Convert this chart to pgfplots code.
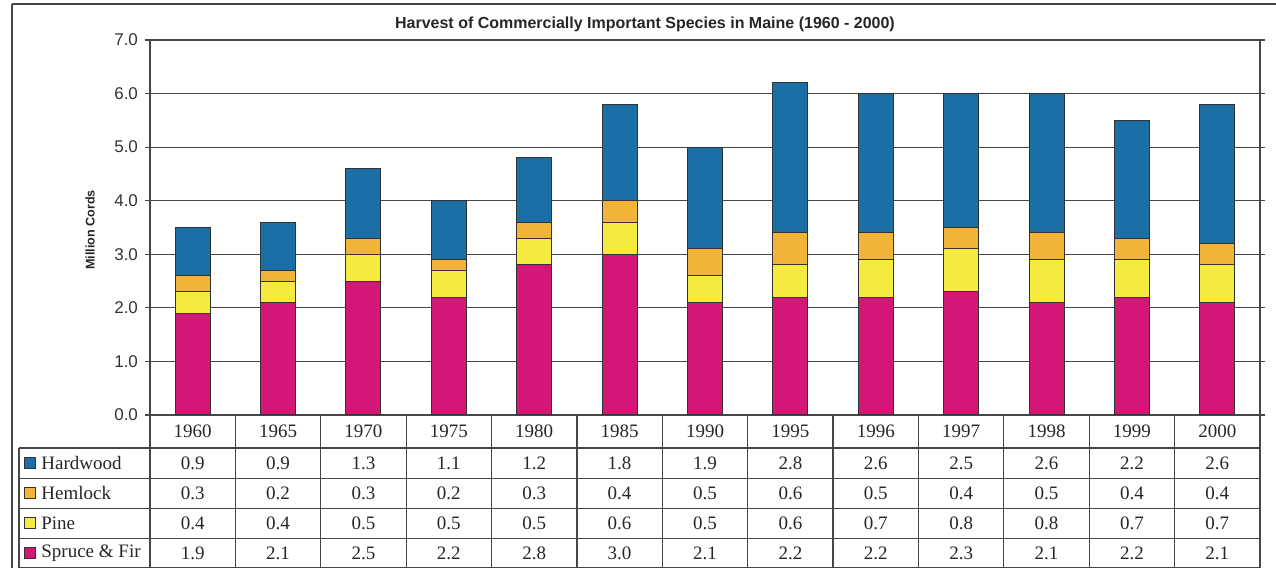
\documentclass[border=0pt]{standalone}
\usepackage{fontspec}
\setmainfont{Liberation Serif}
\setsansfont{Liberation Sans}
\usepackage{pgfplots}
\usepackage{pgfplotstable}
\pgfplotsset{compat=1.18}

\definecolor{hardwood}{RGB}{27,111,166}
\definecolor{hemlock}{RGB}{242,180,56}
\definecolor{pine}{RGB}{244,234,64}
\definecolor{spruce}{RGB}{212,22,118}
\definecolor{gridc}{RGB}{70,70,70}

\pgfplotstableread{
x year hard hem pine spruce
0  1960 0.9 0.3 0.4 1.9
1  1965 0.9 0.2 0.4 2.1
2  1970 1.3 0.3 0.5 2.5
3  1975 1.1 0.2 0.5 2.2
4  1980 1.2 0.3 0.5 2.8
5  1985 1.8 0.4 0.6 3.0
6  1990 1.9 0.5 0.5 2.1
7  1995 2.8 0.6 0.6 2.2
8  1996 2.6 0.5 0.7 2.2
9  1997 2.5 0.4 0.8 2.3
10 1998 2.6 0.5 0.8 2.1
11 1999 2.2 0.4 0.7 2.2
12 2000 2.6 0.4 0.7 2.1
}\harvest

\begin{document}
\begin{tikzpicture}
\begin{axis}[
  at={(75pt,76.5pt)}, anchor=south west,
  scale only axis, width=555pt, height=187.5pt,
  xmin=-0.5, xmax=12.5, ymin=0, ymax=7,
  ybar stacked, bar width=17.5pt,
  xtick=\empty,
  ytick={0,1,...,7},
  yticklabel style={/pgf/number format/.cd,fixed,fixed zerofill,precision=1},
  /pgf/number format/assume math mode=true,
  ticklabel style={font=\sffamily\fontsize{8.5}{9}\selectfont,text=black!80},
  tick align=outside, major tick length=2.5pt,
  tick style={gridc,line width=0.6pt},
  ymajorgrids, grid style={gridc,line width=0.6pt},
  axis line style={gridc,line width=0.6pt},
  every axis plot/.append style={draw=black!80,line width=0.5pt},
]
\addplot[fill=spruce] table[x=x,y=spruce] {\harvest};
\addplot[fill=pine] table[x=x,y=pine] {\harvest};
\addplot[fill=hemlock] table[x=x,y=hem] {\harvest};
\addplot[fill=hardwood] table[x=x,y=hard] {\harvest};
\end{axis}

\begin{scope}[x=0.5pt,y=-0.5pt,yshift=284pt]
\useasboundingbox (0,0) rectangle (1276,568);
% outer frame
\draw[gridc,line width=0.8pt] (12,4) -- (1280,4);
\draw[gridc,line width=0.8pt] (12,4) -- (12,572);
% title
\node[font=\sffamily\bfseries\fontsize{8}{9}\selectfont,text=black!85] at (645,24)
  {Harvest of Commercially Important Species in Maine (1960 - 2000)};
% y label
\node[font=\sffamily\bfseries\fontsize{6.3}{7}\selectfont,rotate=90,text=black!85] at (90,230) {Million Cords};

% data table grid
\begin{scope}[gridc,line width=0.6pt]
\foreach \k in {0,...,13} \draw (150+\k*85.385,415) -- (150+\k*85.385,570);
\draw (19,448) -- (19,570);
\foreach \yy in {448,478.5,508.5,538.5} \draw (19,\yy) -- (1260,\yy);
\draw (19,567.5) -- (1260,567.5);
\end{scope}

% legend keys and names
\foreach \nm/\col/\yy in {Hardwood/hardwood/463.5,Hemlock/hemlock/493.5,Pine/pine/523.5,Spruce \& Fir/spruce/553.5}{
  \draw[fill=\col,draw=black!80,line width=0.5pt] (24,\yy-5.5) rectangle (35,\yy+5.5);
  \node[anchor=west,inner sep=0pt,font=\fontsize{9.5}{10}\selectfont,text=black!85] at (41,\yy) {\nm};
}

% table values
\foreach \i in {0,...,12}{
  \pgfmathsetmacro{\cx}{150+(\i+0.5)*85.385}
  \pgfplotstablegetelem{\i}{year}\of\harvest
  \node[font=\fontsize{9.5}{10}\selectfont,text=black!85] at (\cx,431.5) {\pgfplotsretval};
  \foreach \col/\yy in {hard/463.5,hem/493.5,pine/523.5,spruce/553.5}{
    \pgfplotstablegetelem{\i}{\col}\of\harvest
    \node[font=\fontsize{9.5}{10}\selectfont,text=black!85] at (\cx,\yy)
      {\pgfmathprintnumber[fixed,fixed zerofill,precision=1,assume math mode=true]{\pgfplotsretval}};
  }
}
\end{scope}
\end{tikzpicture}
\end{document}
